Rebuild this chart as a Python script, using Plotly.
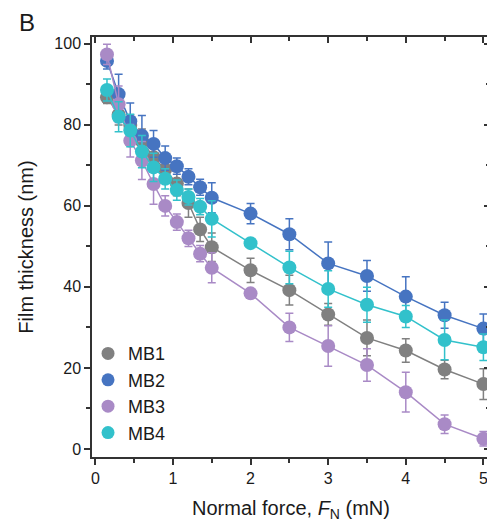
import plotly.graph_objects as go

force = [0.15, 0.3, 0.45, 0.6, 0.75, 0.9, 1.05, 1.2, 1.35, 1.5, 2, 2.5, 3, 3.5, 4, 4.5, 5]

mb1 = [86.8, 82.5, 80.0, 76.0, 72.0, 69.0, 65.5, 60.7, 54.2, 49.8, 44.1, 39.2, 33.2, 27.4, 24.3, 19.6, 16.0]
mb1_err = [1.5, 2.5, 2.5, 3.0, 3.0, 3.0, 3.0, 3.5, 3.0, 3.5, 3.0, 3.7, 2.7, 4.4, 2.9, 2.3, 3.8]

mb2 = [95.8, 87.6, 80.9, 77.3, 75.3, 71.8, 69.8, 67.2, 64.6, 62.0, 58.1, 53.0, 45.8, 42.7, 37.6, 33.0, 29.7]
mb2_err = [2.0, 4.9, 4.5, 5.0, 3.3, 3.0, 2.0, 2.0, 2.0, 3.7, 2.5, 3.8, 5.3, 3.8, 4.9, 3.2, 3.6]

mb3 = [97.4, 85.1, 76.1, 71.2, 65.4, 60.0, 56.0, 52.0, 48.2, 44.7, 38.4, 30.0, 25.4, 20.7, 14.0, 6.1, 2.5]
mb3_err = [2.5, 4.5, 4.0, 4.7, 5.0, 2.5, 2.0, 2.0, 2.0, 3.7, 1.0, 3.5, 5.0, 4.0, 4.9, 2.3, 1.8]

mb4 = [88.6, 82.0, 78.6, 73.4, 69.5, 66.7, 63.9, 62.2, 59.8, 56.8, 50.8, 44.8, 39.5, 35.6, 32.7, 26.9, 25.1]
mb4_err = [2.7, 3.7, 4.0, 4.0, 3.5, 2.5, 2.5, 2.0, 2.0, 4.5, 1.0, 4.0, 4.5, 4.3, 2.7, 4.9, 3.3]

names = ["MB1", "MB2", "MB3", "MB4"]
colors = ["#808080", "#4674C1", "#A98AC6", "#32C1CB"]
series = [mb1, mb2, mb3, mb4]
errors = [mb1_err, mb2_err, mb3_err, mb4_err]

x_major = [0, 1, 2, 3, 4, 5]
y_major = [0, 20, 40, 60, 80, 100]

FONT = "Liberation Sans, Arial, sans-serif"

fig = go.Figure()
for name, col, ys, es in zip(names, colors, series, errors):
    fig.add_trace(go.Scatter(
        x=force, y=ys, mode="lines+markers", name=name, showlegend=False,
        line=dict(color=col, width=1.5),
        marker=dict(color=col, size=14),
        error_y=dict(type="data", array=es, visible=True, color=col, thickness=1.5, width=4),
        cliponaxis=False,
    ))
for name, col in zip(names, colors):
    fig.add_trace(go.Scatter(
        x=[None], y=[None], mode="markers", name=name,
        marker=dict(color=col, size=13),
    ))
# invisible trace for mirrored inward ticks
fig.add_trace(go.Scatter(x=[None], y=[None], xaxis="x2", yaxis="y2", showlegend=False, hoverinfo="skip"))

xr = [-0.043, 5.085]
yr = [-2.0, 101.7]
axcol = "#333333"

common = dict(showgrid=False, zeroline=False, showline=True, linecolor=axcol, linewidth=1.5,
              tickcolor=axcol, tickwidth=1.5, automargin=False)

# page body has an 8px default margin, so the figure is sized to fit the 495x529 window
fig.update_layout(
    width=487, height=521,
    margin=dict(l=84, r=5, t=29, b=72, autoexpand=False),
    paper_bgcolor="white", plot_bgcolor="white",
    font=dict(family=FONT, color="#1a1a1a"),
    xaxis=dict(range=xr, tickvals=x_major, ticks="outside", ticklen=6,
               minor=dict(dtick=0.5, tick0=0, ticks="outside", ticklen=4, tickcolor=axcol, tickwidth=1.5),
               tickfont=dict(size=16), title=dict(text="Normal force, <i>F</i><sub>N</sub> (mN)", font=dict(size=20)),
               **common),
    yaxis=dict(range=yr, tickvals=y_major, ticks="outside", ticklen=6,
               minor=dict(dtick=10, tick0=0, ticks="outside", ticklen=4, tickcolor=axcol, tickwidth=1.5),
               tickfont=dict(size=16), title=dict(text="Film thickness (nm)", font=dict(size=20)),
               **common),
    xaxis2=dict(range=xr, overlaying="x", side="top", anchor="y2", tickvals=x_major, ticks="inside", ticklen=6,
                showticklabels=False,
                minor=dict(dtick=0.5, tick0=0, ticks="inside", ticklen=4, tickcolor=axcol, tickwidth=1.5),
                **common),
    yaxis2=dict(range=yr, overlaying="y", side="right", anchor="x2", tickvals=y_major, ticks="inside", ticklen=6,
                showticklabels=False,
                minor=dict(dtick=10, tick0=0, ticks="inside", ticklen=4, tickcolor=axcol, tickwidth=1.5),
                **common),
    legend=dict(x=-0.01, y=0.29, xanchor="left", yanchor="top", bgcolor="rgba(0,0,0,0)",
                font=dict(size=18), itemwidth=30, tracegroupgap=0),
    showlegend=True,
    annotations=[dict(text="B", xref="paper", yref="paper", x=-0.186, y=1.068, xanchor="left", yanchor="top",
                      borderpad=0, showarrow=False,
                      font=dict(size=24, family="Liberation Sans, Arial, sans-serif", color="#1a1a1a"))],
)

fig.write_html("out.html")
